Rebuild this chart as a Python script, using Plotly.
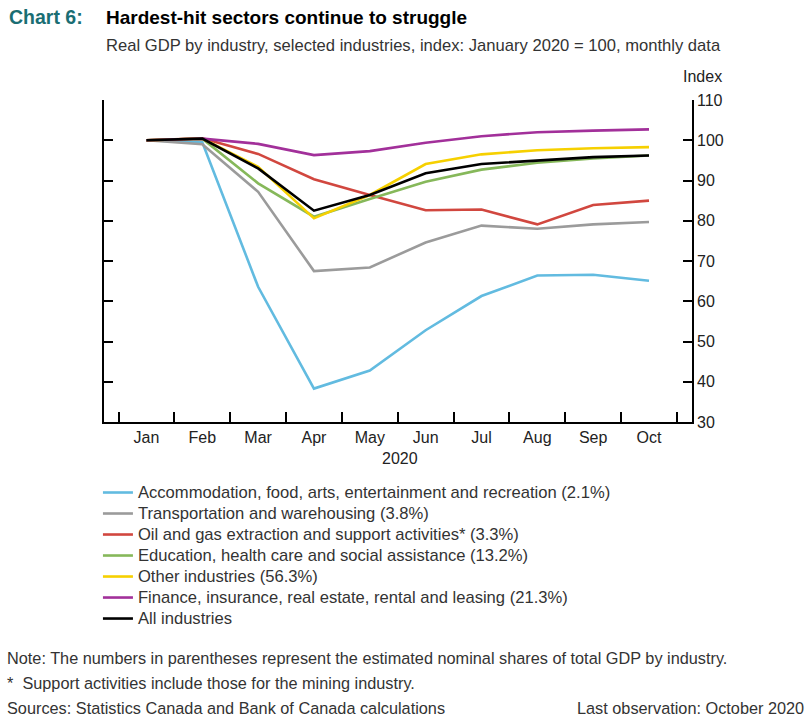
import plotly.graph_objects as go

months = ["Jan", "Feb", "Mar", "Apr", "May", "Jun", "Jul", "Aug", "Sep", "Oct"]

accommodation = [100, 99.5, 63.6, 38.3, 42.8, 52.8, 61.3, 66.4, 66.6, 65.1]
transportation = [100, 99.0, 87.2, 67.5, 68.4, 74.6, 78.8, 78.0, 79.1, 79.7]
oil_gas = [100, 100.5, 96.6, 90.3, 86.4, 82.6, 82.8, 79.1, 83.9, 85.0]
education = [100, 100.4, 89.3, 81.0, 85.4, 89.7, 92.7, 94.4, 95.5, 96.2]
other = [100, 100.4, 93.4, 80.6, 86.4, 94.1, 96.5, 97.5, 98.0, 98.3]
finance = [100, 100.4, 99.1, 96.3, 97.3, 99.4, 101.0, 102.0, 102.4, 102.7]
all_ind = [100, 100.4, 93.0, 82.5, 86.4, 91.8, 94.1, 95.0, 95.8, 96.2]

series_names = [
    "Accommodation, food, arts, entertainment and recreation (2.1%)",
    "Transportation and warehousing (3.8%)",
    "Oil and gas extraction and support activities* (3.3%)",
    "Education, health care and social assistance (13.2%)",
    "Other industries (56.3%)",
    "Finance, insurance, real estate, rental and leasing (21.3%)",
    "All industries",
]
series_values = [accommodation, transportation, oil_gas, education, other, finance, all_ind]
series_colors = ["#62bbe0", "#9b9b9b", "#d1473f", "#86b85a", "#f6d000", "#a2309a", "#000000"]

FONT = "Liberation Sans, Arial, sans-serif"
W, H = 812, 723
ML, MR, MT, MB = 104, 120, 100, 301
PW, PH = W - ML - MR, H - MT - MB

fig = go.Figure()
for i in range(len(series_names)):
    fig.add_trace(go.Scatter(
        x=months, y=series_values[i],
        name='<span style="font-size:16.6px">' + series_names[i] + '</span>',
        mode="lines",
        line=dict(color=series_colors[i], width=2.6),
        legendrank=i,
    ))

fig.update_layout(
    width=W, height=H,
    margin=dict(l=ML, r=MR, t=MT, b=MB, autoexpand=False),
    paper_bgcolor="white", plot_bgcolor="white",
    font=dict(family=FONT, size=16, color="#222"),
    showlegend=True,
    legend=dict(
        x=-0.0035 - 4 / PW, y=1 - (477 - MT) / PH, xanchor="left", yanchor="top",
        orientation="v", font=dict(size=13.85, color="#333", family=FONT),
        itemwidth=30, tracegroupgap=0, bgcolor="rgba(0,0,0,0)",
        traceorder="normal",
    ),
    xaxis=dict(
        type="category", range=[-0.76, 9.77], tickson="boundaries",
        ticks="inside", ticklen=10, tickwidth=1.6, tickcolor="#000",
        showline=True, linecolor="#000", linewidth=1.6,
        showgrid=False, zeroline=False,
        tickfont=dict(size=16, color="#222"),
    ),
    yaxis=dict(
        range=[30, 110], dtick=10, side="right",
        ticks="inside", ticklen=9, tickwidth=1.6, tickcolor="#000",
        showline=True, linecolor="#000", linewidth=1.6, mirror="ticks",
        showgrid=False, zeroline=False,
        tickfont=dict(size=16, color="#222"),
    ),
)

def px_x(x):
    return (x - ML) / PW

def px_y(y):
    return 1 - (y - MT) / PH

annotations = [
    dict(text="<b>Chart 6:</b>", x=7, y=17, anchor="left", font=dict(size=19.5, color="#1a6e73")),
    dict(text="<b>Hardest-hit sectors continue to struggle</b>", x=104, y=17, anchor="left",
         font=dict(size=19, color="#000")),
    dict(text="Real GDP by industry, selected industries, index: January 2020 = 100, monthly data",
         x=104, y=45, anchor="left", font=dict(size=16.6, color="#333")),
    dict(text="Note: The numbers in parentheses represent the estimated nominal shares of total GDP by industry.",
         x=5, y=658, anchor="left", font=dict(size=16.3, color="#333")),
    dict(text="*  Support activities include those for the mining industry.",
         x=5, y=683, anchor="left", font=dict(size=16.3, color="#333")),
    dict(text="Sources: Statistics Canada and Bank of Canada calculations",
         x=5, y=708, anchor="left", font=dict(size=16.3, color="#333")),
    dict(text="Last observation: October 2020",
         x=806, y=708, anchor="right", font=dict(size=16.3, color="#333")),
    dict(text="Index", x=724, y=76, anchor="right", font=dict(size=16, color="#222")),
    dict(text="2020", x=400, y=458, anchor="center", font=dict(size=16, color="#222")),
]
for a in annotations:
    fig.add_annotation(
        text=a["text"], xref="paper", yref="paper",
        x=px_x(a["x"]), y=px_y(a["y"]),
        xanchor=a["anchor"], yanchor="middle", showarrow=False, font=a["font"],
    )

fig.write_html(
    "out.html",
    config={"displayModeBar": False},
    post_script="document.body.style.margin='0';document.body.style.padding='0';",
)
